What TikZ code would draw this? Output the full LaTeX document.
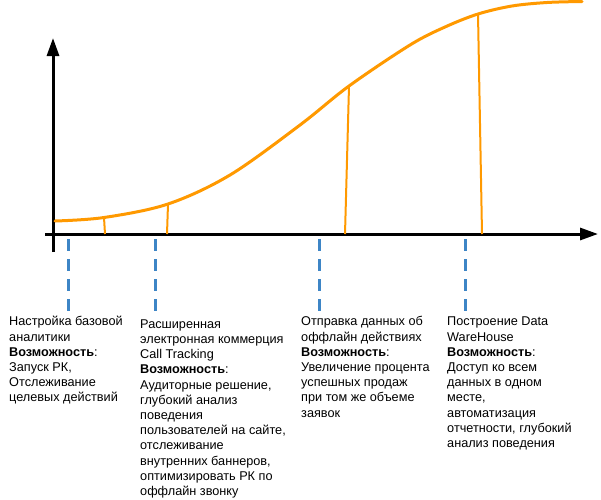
\documentclass[tikz,border=0pt]{standalone}
\usepackage{fontspec}
\setmainfont{Liberation Sans}
\usetikzlibrary{arrows.meta}
\definecolor{curveorange}{HTML}{FF9900}
\definecolor{dashblue}{HTML}{3D85C6}
\tikzset{
  axisline/.style={line width=3pt, black, -{Triangle[length=18pt,width=12pt]}},
  growth/.style={line width=3pt, curveorange, line cap=round},
  dropline/.style={line width=2pt, curveorange},
  markline/.style={line width=3pt, dashblue, dash pattern=on 12pt off 8pt},
  stagetext/.style={anchor=north west, inner sep=0pt, align=left, font=\fontsize{12.7}{15.2}\selectfont}
}
\begin{document}
\begin{tikzpicture}[x=1pt,y=-1pt]
\useasboundingbox (0,0) rectangle (601,499);
% axes
\coordinate (ybot) at (53,252);
\coordinate (ytop) at (53,38);
\coordinate (xleft) at (45,234);
\coordinate (xright) at (598,234);
\draw[axisline] (ybot) -- (ytop);
\draw[axisline] (xleft) -- (xright);
% curve points
\coordinate (c0) at (55,221);
\coordinate (c1) at (104,217.5);
\coordinate (c2) at (168,204);
\coordinate (c3) at (230,175);
\coordinate (c4) at (300,125);
\coordinate (c5) at (349,86);
\coordinate (c6) at (410,45);
\coordinate (c6b) at (445,27);
\coordinate (c7) at (478,14);
\coordinate (c7b) at (512,6);
\coordinate (c7c) at (547,2.5);
\coordinate (c8) at (582,1.5);
\draw[growth] plot[smooth, tension=0.55] coordinates {(c0) (c1) (c2) (c3) (c4) (c5) (c6) (c6b) (c7) (c7b) (c7c) (c8)};
% drop lines
\coordinate (b1) at (105,234);
\coordinate (b2) at (167,234);
\coordinate (b5) at (345,234);
\coordinate (b7) at (482,234);
\draw[dropline] (c1) -- (b1);
\draw[dropline] (c2) -- (b2);
\draw[dropline] (c5) -- (b5);
\draw[dropline] (c7) -- (b7);
% dashed markers
\foreach \n/\x in {m1/68, m2/155, m3/319, m4/465} {
  \coordinate (\n a) at (\x,239);
  \coordinate (\n b) at (\x,311);
  \draw[markline] (\n a) -- (\n b);
}
% texts
\node[stagetext] (t1) at (9,315) {\strut Настройка базовой\\аналитики\\\textbf{Возможность}:\\Запуск РК,\\Отслеживание\\целевых действий};
\node[stagetext] (t2) at (140,317.5) {\strut Расширенная\\электронная коммерция\\Call Tracking\\\textbf{Возможность}:\\Аудиторные решение,\\глубокий анализ\\поведения\\пользователей на сайте,\\отслеживание\\внутренних баннеров,\\оптимизировать РК по\\оффлайн звонку};
\node[stagetext] (t3) at (301,315) {\strut Отправка данных об\\оффлайн действиях\\\textbf{Возможность}:\\Увеличение процента\\успешных продаж\\при том же объеме\\заявок};
\node[stagetext] (t4) at (447,315) {\strut Построение Data\\WareHouse\\\textbf{Возможность}:\\Доступ ко всем\\данных в одном\\месте,\\автоматизация\\отчетности, глубокий\\анализ поведения};
\end{tikzpicture}
\end{document}
